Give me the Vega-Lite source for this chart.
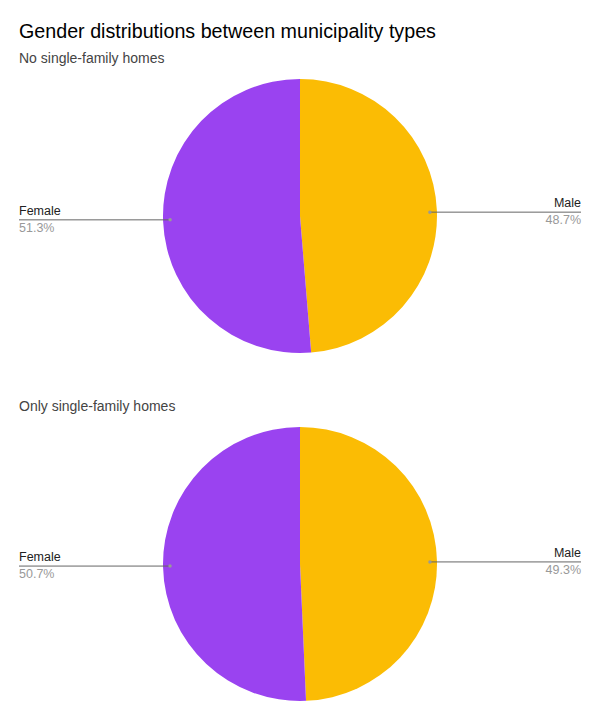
{
  "$schema": "https://vega.github.io/schema/vega-lite/v6.json",
  "padding": {"left": 0, "right": 0, "top": 22, "bottom": 0},
  "background": "white",
  "title": {"text": "Gender distributions between municipality types", "anchor": "start", "dx": 19, "fontSize": 19.7, "font": "Liberation Sans", "fontWeight": "normal", "color": "#000000", "offset": 10},
  "config": {"view": {"stroke": null}},
  "data": {"values": [
    {"group": "No single-family homes", "gender": "Male", "value": 48.7},
    {"group": "No single-family homes", "gender": "Female", "value": 51.3},
    {"group": "Only single-family homes", "gender": "Male", "value": 49.3},
    {"group": "Only single-family homes", "gender": "Female", "value": 50.7}
  ]},
  "spacing": 39,
  "vconcat": [
    {
      "width": 600, "height": 290,
      "title": {"text": "No single-family homes", "anchor": "start", "dx": 19, "fontSize": 14, "fontWeight": "normal", "color": "#444444", "font": "Liberation Sans", "offset": 5},
      "transform": [
        {"filter": "datum.group === 'No single-family homes'"},
        {"window": [{"op": "sum", "field": "value", "as": "cum"}], "sort": [{"field": "gender", "order": "descending"}], "frame": [null, 0]},
        {"calculate": "2*PI*(datum.cum-datum.value/2)/100", "as": "a"},
        {"calculate": "130*sin(datum.a)", "as": "px"},
        {"calculate": "130*cos(datum.a)", "as": "py"},
        {"calculate": "datum.px<0?-281:281", "as": "lx"},
        {"calculate": "datum.value/100", "as": "pct"}
      ],
      "layer": [
        {"mark": {"type": "arc", "radius": 137},
         "encoding": {
           "theta": {"field": "value", "type": "quantitative", "stack": true},
           "color": {"field": "gender", "type": "nominal", "scale": {"domain": ["Male", "Female"], "range": ["#FBBC04", "#9A43F0"]}, "legend": null},
           "order": {"field": "gender", "sort": "descending"}}},
        {"mark": {"type": "rule", "color": "#666666", "strokeWidth": 1},
         "encoding": {
           "x": {"field": "px", "type": "quantitative", "scale": {"domain": [-300, 300]}, "axis": null},
           "x2": {"field": "lx"},
           "y": {"field": "py", "type": "quantitative", "scale": {"domain": [-145, 145]}, "axis": null}}},
        {"mark": {"type": "circle", "color": "#999999", "size": 12, "opacity": 1},
         "encoding": {
           "x": {"field": "px", "type": "quantitative"},
           "y": {"field": "py", "type": "quantitative"}}},
        {"transform": [{"filter": "datum.px < 0"}],
         "layer": [
           {"mark": {"type": "text", "align": "left", "baseline": "bottom", "dy": -2, "fontSize": 12.5, "font": "Liberation Sans", "color": "#222222"},
            "encoding": {"x": {"field": "lx", "type": "quantitative"}, "y": {"field": "py", "type": "quantitative"}, "text": {"field": "gender"}}},
           {"mark": {"type": "text", "align": "left", "baseline": "top", "dy": 2, "fontSize": 12.5, "font": "Liberation Sans", "color": "#999999"},
            "encoding": {"x": {"field": "lx", "type": "quantitative"}, "y": {"field": "py", "type": "quantitative"}, "text": {"field": "pct", "type": "quantitative", "format": ".1%"}}}
         ]},
        {"transform": [{"filter": "datum.px >= 0"}],
         "layer": [
           {"mark": {"type": "text", "align": "right", "baseline": "bottom", "dy": -2, "fontSize": 12.5, "font": "Liberation Sans", "color": "#222222"},
            "encoding": {"x": {"field": "lx", "type": "quantitative"}, "y": {"field": "py", "type": "quantitative"}, "text": {"field": "gender"}}},
           {"mark": {"type": "text", "align": "right", "baseline": "top", "dy": 2, "fontSize": 12.5, "font": "Liberation Sans", "color": "#999999"},
            "encoding": {"x": {"field": "lx", "type": "quantitative"}, "y": {"field": "py", "type": "quantitative"}, "text": {"field": "pct", "type": "quantitative", "format": ".1%"}}}
         ]}
      ]
    },
    {
      "width": 600, "height": 290,
      "title": {"text": "Only single-family homes", "anchor": "start", "dx": 19, "fontSize": 14, "fontWeight": "normal", "color": "#444444", "font": "Liberation Sans", "offset": 5},
      "transform": [
        {"filter": "datum.group === 'Only single-family homes'"},
        {"window": [{"op": "sum", "field": "value", "as": "cum"}], "sort": [{"field": "gender", "order": "descending"}], "frame": [null, 0]},
        {"calculate": "2*PI*(datum.cum-datum.value/2)/100", "as": "a"},
        {"calculate": "130*sin(datum.a)", "as": "px"},
        {"calculate": "130*cos(datum.a)", "as": "py"},
        {"calculate": "datum.px<0?-281:281", "as": "lx"},
        {"calculate": "datum.value/100", "as": "pct"}
      ],
      "layer": [
        {"mark": {"type": "arc", "radius": 137},
         "encoding": {
           "theta": {"field": "value", "type": "quantitative", "stack": true},
           "color": {"field": "gender", "type": "nominal", "scale": {"domain": ["Male", "Female"], "range": ["#FBBC04", "#9A43F0"]}, "legend": null},
           "order": {"field": "gender", "sort": "descending"}}},
        {"mark": {"type": "rule", "color": "#666666", "strokeWidth": 1},
         "encoding": {
           "x": {"field": "px", "type": "quantitative", "scale": {"domain": [-300, 300]}, "axis": null},
           "x2": {"field": "lx"},
           "y": {"field": "py", "type": "quantitative", "scale": {"domain": [-145, 145]}, "axis": null}}},
        {"mark": {"type": "circle", "color": "#999999", "size": 12, "opacity": 1},
         "encoding": {
           "x": {"field": "px", "type": "quantitative"},
           "y": {"field": "py", "type": "quantitative"}}},
        {"transform": [{"filter": "datum.px < 0"}],
         "layer": [
           {"mark": {"type": "text", "align": "left", "baseline": "bottom", "dy": -2, "fontSize": 12.5, "font": "Liberation Sans", "color": "#222222"},
            "encoding": {"x": {"field": "lx", "type": "quantitative"}, "y": {"field": "py", "type": "quantitative"}, "text": {"field": "gender"}}},
           {"mark": {"type": "text", "align": "left", "baseline": "top", "dy": 2, "fontSize": 12.5, "font": "Liberation Sans", "color": "#999999"},
            "encoding": {"x": {"field": "lx", "type": "quantitative"}, "y": {"field": "py", "type": "quantitative"}, "text": {"field": "pct", "type": "quantitative", "format": ".1%"}}}
         ]},
        {"transform": [{"filter": "datum.px >= 0"}],
         "layer": [
           {"mark": {"type": "text", "align": "right", "baseline": "bottom", "dy": -2, "fontSize": 12.5, "font": "Liberation Sans", "color": "#222222"},
            "encoding": {"x": {"field": "lx", "type": "quantitative"}, "y": {"field": "py", "type": "quantitative"}, "text": {"field": "gender"}}},
           {"mark": {"type": "text", "align": "right", "baseline": "top", "dy": 2, "fontSize": 12.5, "font": "Liberation Sans", "color": "#999999"},
            "encoding": {"x": {"field": "lx", "type": "quantitative"}, "y": {"field": "py", "type": "quantitative"}, "text": {"field": "pct", "type": "quantitative", "format": ".1%"}}}
         ]}
      ]
    }
  ]
}
